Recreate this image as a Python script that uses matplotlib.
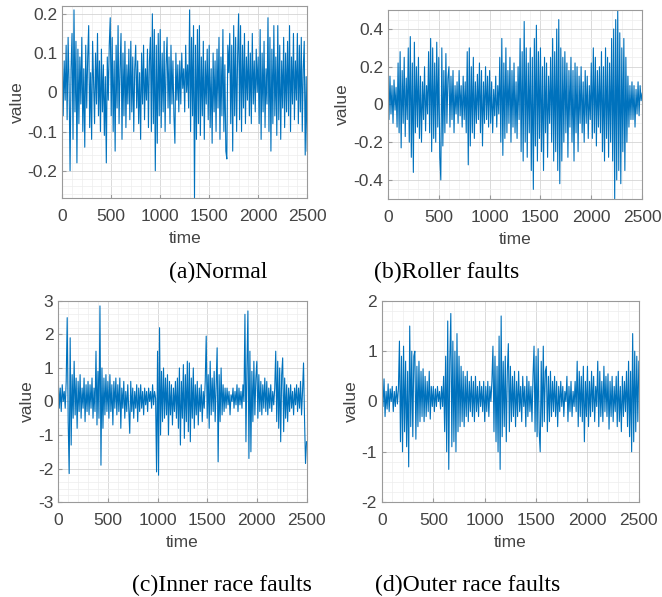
import numpy as np
import matplotlib.pyplot as plt
from matplotlib.ticker import MultipleLocator, FuncFormatter

# vibration signals, one value every 10 samples (0..2500)
normal = [
    0.10, -0.06, 0.08, -0.02, 0.12, -0.07, 0.14, 0.02, -0.20, 0.06,
    0.15, -0.12, 0.21, -0.05, 0.13, -0.18, 0.11, -0.08, 0.09, -0.03,
    0.14, -0.10, 0.06, -0.14, 0.12, -0.04, 0.09, 0.17, -0.09, 0.05,
    -0.12, 0.13, 0.02, -0.08, 0.10, -0.03, 0.15, -0.06, 0.08, -0.10,
    0.11, -0.05, 0.07, -0.11, 0.04, -0.18, 0.09, -0.02, 0.12, 0.19,
    -0.06, 0.14, -0.10, 0.08, -0.15, 0.12, -0.04, 0.17, -0.08, 0.06,
    0.15, -0.12, 0.10, -0.06, 0.13, -0.09, 0.07, -0.03, 0.11, -0.07,
    0.13, -0.05, 0.09, -0.10, 0.06, 0.12, -0.04, 0.08, -0.08, 0.05,
    -0.12, 0.10, -0.03, 0.12, -0.07, 0.06, -0.02, 0.11, -0.09, 0.08,
    0.14, -0.10, 0.20, -0.08, 0.16, -0.20, 0.12, -0.13, 0.15, -0.06,
    0.16, -0.09, 0.10, -0.05, 0.13, -0.10, 0.07, 0.14, -0.04, 0.09,
    -0.08, 0.12, -0.03, 0.08, -0.06, -0.13, 0.10, -0.02, 0.07, -0.05,
    0.08, -0.03, 0.10, 0.01, 0.06, -0.05, 0.12, 0.00, 0.07, -0.04,
    0.21, -0.10, 0.14, -0.06, 0.17, -0.27, 0.12, -0.12, 0.16, -0.08,
    0.17, -0.11, 0.09, -0.06, 0.13, -0.12, 0.08, -0.03, 0.11, -0.07,
    0.12, -0.09, 0.06, -0.13, 0.10, -0.05, 0.08, -0.10, 0.11, -0.04,
    0.14, -0.12, 0.09, -0.06, 0.16, -0.10, 0.07, -0.15, -0.17, 0.12,
    0.05, 0.15, -0.08, 0.12, -0.15, 0.17, -0.06, 0.14, -0.10, 0.09,
    0.20, -0.07, 0.17, -0.10, 0.12, -0.04, 0.15, -0.08, 0.09, -0.02,
    0.13, -0.06, 0.10, -0.08, 0.15, -0.03, 0.08, -0.05, 0.11, 0.00,
    0.09, -0.08, 0.16, -0.12, 0.10, -0.05, 0.13, -0.09, 0.06, -0.03,
    0.19, -0.10, 0.14, -0.15, 0.11, -0.08, 0.17, -0.06, 0.09, -0.11,
    0.17, -0.07, 0.12, -0.12, 0.08, -0.04, 0.14, -0.09, 0.10, -0.05,
    0.13, -0.06, 0.17, -0.10, 0.09, -0.03, 0.15, -0.07, 0.08, -0.02,
    0.15, -0.08, 0.12, -0.05, 0.14, -0.10, 0.06, 0.13, -0.16, 0.04,
    -0.15,
]

roller = [
    0.12, -0.08, 0.15, -0.05, 0.10, -0.10, 0.13, -0.03, 0.09, -0.12,
    0.22, -0.15, 0.28, -0.23, 0.18, -0.10, 0.25, -0.17, 0.14, -0.08,
    0.30, -0.20, 0.36, -0.28, 0.22, -0.36, 0.33, -0.15, 0.20, -0.12,
    0.25, -0.18, 0.15, -0.20, 0.12, -0.08, 0.20, -0.14, 0.10, -0.05,
    0.28, -0.15, 0.35, -0.25, 0.30, -0.18, 0.22, -0.20, 0.33, -0.12,
    0.25, -0.28, -0.40, 0.30, -0.22, 0.18, -0.15, 0.27, -0.10, 0.14,
    0.20, -0.12, 0.15, -0.08, 0.18, -0.15, 0.10, -0.05, 0.12, -0.10,
    0.18, -0.06, 0.10, -0.12, 0.15, -0.08, 0.12, -0.15, 0.28, -0.32,
    0.30, -0.22, 0.20, -0.15, 0.25, -0.18, 0.12, -0.10, 0.16, -0.08,
    0.22, -0.15, 0.18, -0.22, 0.12, -0.10, 0.20, -0.08, 0.15, -0.12,
    0.18, -0.10, 0.12, -0.15, 0.08, -0.06, 0.15, -0.12, 0.10, -0.05,
    0.25, -0.20, 0.35, -0.27, 0.22, -0.18, 0.30, -0.15, 0.18, -0.10,
    0.25, -0.20, 0.18, -0.12, 0.22, -0.15, 0.12, -0.18, 0.20, -0.08,
    0.35, -0.25, 0.28, -0.30, 0.44, -0.20, 0.30, -0.28, 0.22, -0.15,
    0.30, -0.35, 0.25, -0.45, 0.35, -0.22, 0.42, -0.30, 0.28, -0.18,
    0.30, -0.25, 0.20, -0.35, 0.25, -0.15, 0.22, -0.28, 0.15, -0.10,
    0.25, -0.20, 0.35, -0.30, 0.28, -0.25, 0.40, -0.35, 0.45, -0.42,
    0.30, -0.30, 0.25, -0.20, 0.28, -0.15, 0.22, -0.28, 0.18, -0.12,
    0.25, -0.20, 0.18, -0.30, 0.22, -0.15, 0.20, -0.25, 0.15, -0.10,
    0.20, -0.15, 0.12, -0.20, 0.18, -0.10, 0.15, -0.18, 0.10, -0.08,
    0.22, -0.18, 0.30, -0.15, 0.25, -0.22, 0.18, -0.12, 0.20, -0.15,
    0.28, -0.25, 0.20, -0.30, 0.30, -0.18, 0.25, -0.28, 0.22, -0.20,
    0.35, -0.30, 0.40, -0.50, 0.45, -0.40, 0.50, -0.35, 0.38, -0.42,
    0.30, -0.25, 0.35, -0.35, 0.25, -0.20, 0.15, -0.12, 0.10, -0.08,
    0.12, -0.08, 0.10, -0.12, 0.08, -0.05, 0.12, -0.06, 0.10, 0.02,
    0.06,
]

inner = [
    0.7, -0.2, 0.4, -0.3, 0.5, 0.0, 0.3, -0.2, 0.6, 2.5,
    -0.6, -2.15, 1.9, -1.3, 0.8, -0.5, 1.2, -0.4, 0.7, -0.8,
    0.6, -0.3, 0.8, -0.5, 0.4, -0.2, 0.7, -0.6, 0.5, -0.3,
    0.6, -0.4, 0.5, -0.2, 0.7, -0.5, 0.4, -0.3, 1.5, -0.7,
    0.9, -0.5, 2.85, -1.9, 1.0, -0.8, 0.7, -0.4, 0.8, -0.3,
    0.6, -0.5, 0.8, -0.3, 0.5, -0.7, 0.6, -0.2, 0.7, -0.4,
    0.5, -0.3, 0.7, -0.8, 0.4, -0.2, 0.6, -0.5, 0.3, -0.3,
    0.5, -0.2, -0.95, 0.6, -0.3, 0.4, -0.5, 0.3, -0.2, 0.5,
    -0.6, 0.4, -0.3, 0.5, -0.2, 0.3, -0.4, 0.4, -0.1, 0.3,
    -0.3, 0.4, 0.0, 0.3, -0.2, 0.5, -0.1, 0.3, 0.1, -2.1,
    1.5, -2.2, 2.2, -1.0, 0.9, -0.6, 1.0, -0.5, 0.7, -0.4,
    0.8, -1.0, 0.6, -0.4, 0.5, -0.7, 0.4, -0.3, 0.6, -0.5,
    0.7, -0.8, 1.0, -1.3, 0.6, -0.5, 1.1, -1.1, 0.8, -0.6,
    1.2, -0.9, 1.15, -1.2, 0.7, -0.5, 1.0, -0.8, 0.5, -0.4,
    0.6, -0.7, 0.4, -0.3, 0.5, -0.6, 0.3, -0.2, 0.6, 1.95,
    -0.5, 0.8, -0.8, 1.2, -0.4, 0.7, -0.3, 0.9, -0.6, 0.5,
    1.6, -1.8, 0.8, -0.6, 1.0, -0.4, 0.5, -0.3, 0.4, -0.2,
    0.4, -0.1, 0.3, -0.4, 0.2, 0.0, 0.4, -0.2, 0.3, -0.1,
    0.5, -0.3, 0.4, -0.1, 0.3, -0.2, 0.5, 0.0, 2.6, -1.2,
    1.0, 2.7, -1.7, 1.5, -1.5, 0.9, -0.6, 1.2, -0.4, 0.7,
    1.2, -0.5, 0.8, -0.3, 0.6, -0.4, 0.5, -0.2, 0.7, -0.3,
    0.6, -0.4, 0.4, -0.2, 0.5, -0.3, 0.3, -0.1, 0.4, 1.5,
    -0.6, 1.2, -0.8, 1.0, -1.2, 0.8, 1.3, -0.9, 0.7, -0.5,
    0.5, -0.6, 0.4, -0.3, 0.5, -0.2, 0.3, -0.4, 0.4, -0.1,
    0.5, -0.3, 0.4, -0.2, 0.6, -0.4, 0.3, 1.15, -0.5, -1.85,
    -1.2,
]

outer = [
    0.3, -0.1, 0.45, -0.3, 0.2, -0.15, 0.35, -0.2, 0.25, 0.0,
    0.3, -0.2, 0.2, -0.1, 0.3, -0.05, 0.25, 1.2, -0.8, 0.9,
    -1.0, 1.1, -0.6, 0.8, -0.9, 0.6, -1.3, 1.5, -0.5, 1.0,
    -0.7, 0.9, 1.0, -0.75, 0.7, -0.5, 0.8, -0.4, 0.6, -0.3,
    0.65, -0.4, 0.5, -0.3, 0.4, -0.2, 0.6, -0.35, 0.3, -0.1,
    0.3, -0.2, 0.25, -0.1, 0.3, 0.0, 0.2, -0.15, 0.3, -0.1,
    0.5, -0.6, 0.9, -1.0, 1.6, -1.35, 0.8, 1.75, -0.9, 1.2,
    -0.8, 1.0, -1.0, 1.35, -0.6, 0.9, -0.5, 0.7, -0.4, 0.6,
    -0.5, 0.5, -0.3, 0.6, -0.4, 0.4, -0.2, 0.5, -0.3, 0.4,
    -0.4, 0.5, -0.2, 0.3, -0.3, 0.4, -0.1, 0.3, -0.2, 0.4,
    -0.4, 0.3, -0.2, 0.4, -0.3, 0.3, 0.0, 0.4, 1.1, -0.6,
    0.9, -0.8, 0.7, -1.0, 1.3, -1.35, 1.7, -0.7, 0.8, -0.5,
    0.9, -0.8, 0.6, 1.15, -0.6, 0.7, -0.4, 0.5, -0.3, 0.6,
    -0.5, 0.4, -0.3, 0.6, -0.2, 0.3, -0.4, 0.5, -0.1, 0.3,
    -0.5, 0.5, -0.3, 0.4, -0.2, 0.3, -0.4, 0.5, 1.1, -0.6,
    0.9, -0.7, 1.05, -0.6, -1.0, 0.8, -0.5, 1.1, -0.4, 0.6,
    0.7, -0.6, 0.5, -0.4, 0.6, -0.3, 0.4, -0.2, 0.5, -0.3,
    0.4, -0.5, 0.3, -0.2, 0.4, -0.1, 0.3, -0.3, 0.2, 0.0,
    0.5, -0.4, 0.3, -0.2, 0.4, -0.3, 0.2, -0.1, 0.4, -0.2,
    0.8, -0.5, 0.6, -0.3, 0.5, -0.4, 0.7, -0.8, 0.4, -0.3,
    0.7, -0.5, 0.4, -0.3, 0.6, -0.2, 0.5, -0.4, 0.3, -0.1,
    0.8, -0.5, 0.6, -0.3, 0.4, -0.4, 0.7, -0.2, 0.5, -0.3,
    0.55, -0.55, 0.4, -0.3, 0.5, -0.4, 0.3, -0.2, 0.5, -0.5,
    0.6, -0.4, 0.3, -0.6, 0.5, -0.3, 0.4, -0.2, 0.6, -0.5,
    0.8, -0.7, 0.6, -1.0, 1.35, -0.8, 1.0, -0.6, 0.9, -0.4,
    0.8,
]

captions = ['(a)Normal', '(b)Roller faults', '(c)Inner race faults', '(d)Outer race faults']
y_limits = [(-0.27, 0.22), (-0.5, 0.5), (-3, 3), (-2, 2)]
y_major = [0.1, 0.2, 1, 1]
y_minor = [0.02, 0.05, 0.2, 0.2]
step = 10


def plot_signals():
    plt.rcParams['axes.unicode_minus'] = False
    plt.rcParams['font.family'] = 'Liberation Sans'
    fig = plt.figure(figsize=(6.62, 5.97), dpi=100)

    boxes = [[0.094, 0.668, 0.370, 0.322],
             [0.586, 0.667, 0.384, 0.316],
             [0.088, 0.159, 0.375, 0.337],
             [0.577, 0.159, 0.388, 0.337]]
    caption_xy = [(0.330, 0.543), (0.674, 0.543), (0.336, 0.020), (0.707, 0.020)]
    signals = [normal, roller, inner, outer]

    for i, sig in enumerate(signals):
        ax = fig.add_axes(boxes[i])
        t = np.arange(len(sig)) * step
        ax.plot(t, sig, color='#0072BD', lw=0.8)
        ax.set_xlim(0, 2500)
        ax.set_ylim(*y_limits[i])
        ax.xaxis.set_major_locator(MultipleLocator(500))
        ax.xaxis.set_minor_locator(MultipleLocator(100))
        ax.yaxis.set_major_locator(MultipleLocator(y_major[i]))
        ax.yaxis.set_minor_locator(MultipleLocator(y_minor[i]))
        ax.yaxis.set_major_formatter(FuncFormatter(lambda v, _: '%g' % round(v, 6)))
        ax.grid(which='major', color='#d4d4d4', lw=0.6)
        ax.grid(which='minor', color='#ededed', lw=0.5)
        ax.set_axisbelow(True)
        for s in ax.spines.values():
            s.set_color('#9a9a9a')
            s.set_linewidth(0.8)
        ax.tick_params(which='major', direction='in', length=3, color='#9a9a9a',
                       labelcolor='#444444', labelsize=12.5)
        ax.tick_params(axis='x', which='major', pad=8)
        ax.tick_params(which='minor', length=0)
        ax.set_xlabel('time', fontsize=12.5, color='#444444', labelpad=5)
        ax.set_ylabel('value', fontsize=12.5, color='#444444', labelpad=2)

        fig.text(caption_xy[i][0], caption_xy[i][1], captions[i], ha='center', va='center',
                 family='Liberation Serif', fontsize=17)

    plt.savefig('out.png', dpi=100)
    plt.close()


if __name__ == "__main__":
    plot_signals()
